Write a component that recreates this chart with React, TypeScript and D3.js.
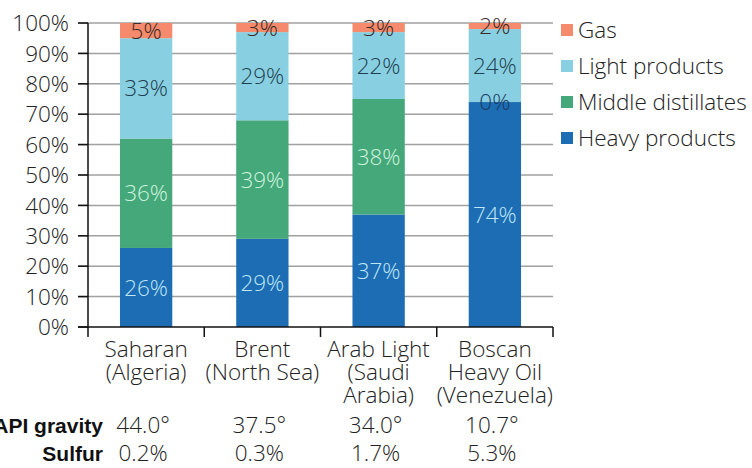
import React, { useEffect, useRef } from 'react'
import * as d3 from 'd3'

const crudes = ['Saharan', 'Brent', 'Arab Light', 'Boscan']
const crudeLabels = [
  ['Saharan', '(Algeria)'],
  ['Brent', '(North Sea)'],
  ['Arab Light', '(Saudi', 'Arabia)'],
  ['Boscan', 'Heavy Oil', '(Venezuela)'],
]
const heavy = [26, 29, 37, 74]
const middle = [36, 39, 38, 0]
const light = [33, 29, 22, 24]
const gas = [5, 3, 3, 2]
const apiGravity = ['44.0°', '37.5°', '34.0°', '10.7°']
const sulfur = ['0.2%', '0.3%', '1.7%', '5.3%']
const yTicks = [0, 10, 20, 30, 40, 50, 60, 70, 80, 90, 100]

const series = [
  { key: 'heavy', name: 'Heavy products', values: heavy, color: '#1c6db3', text: '#bfe6f7' },
  { key: 'middle', name: 'Middle distillates', values: middle, color: '#45a87a', text: '#cdf3dd' },
  { key: 'light', name: 'Light products', values: light, color: '#88d0e1', text: '#1f3f50' },
  { key: 'gas', name: 'Gas', values: gas, color: '#f58a6c', text: '#3a2a28' },
]

const FONT = '"Open Sans", Roboto, sans-serif'
const FS = '22.5px'

export default function App() {
  const svgRef = useRef<SVGSVGElement>(null)
  const width = 752
  const height = 468

  useEffect(() => {
    if (!svgRef.current) return
    const svg = d3.select(svgRef.current)
    svg.selectAll('*').remove()

    const left = 88
    const right = 553
    const top = 23
    const bottom = 327

    const x = d3.scaleBand<string>()
      .domain(crudes)
      .range([left, right])
      .paddingInner(0.55)
      .paddingOuter(0.275)

    const y = d3.scaleLinear().domain([0, 100]).range([bottom, top])

    const txt = (sel: any) => sel
      .style('font-family', FONT)
      .style('font-size', FS)
      .style('font-weight', 300)

    // grid lines
    svg.append('g')
      .selectAll('line')
      .data(yTicks.filter(t => t > 0))
      .join('line')
      .attr('x1', left - 10)
      .attr('x2', right)
      .attr('y1', d => y(d))
      .attr('y2', d => y(d))
      .attr('stroke', '#a0a0a0')
      .attr('stroke-width', 1.5)

    // y tick labels
    svg.append('g')
      .selectAll('text')
      .data(yTicks)
      .join('text')
      .attr('x', 69)
      .attr('y', d => y(d))
      .attr('dy', '0.36em')
      .attr('text-anchor', 'end')
      .call(txt)
      .attr('fill', '#222')
      .text(d => `${d}%`)

    // stacked bars
    const rows = crudes.map((c, i) => {
      const r: any = { crude: c }
      series.forEach(s => { r[s.key] = s.values[i] })
      return r
    })
    const stack = d3.stack<any>().keys(series.map(s => s.key))(rows)

    stack.forEach((layer, li) => {
      const s = series[li]
      svg.append('g')
        .selectAll('rect')
        .data(layer)
        .join('rect')
        .attr('x', d => x(d.data.crude)!)
        .attr('width', x.bandwidth())
        .attr('y', d => y(d[1]))
        .attr('height', d => y(d[0]) - y(d[1]))
        .attr('fill', s.color)
    })

    stack.forEach((layer, li) => {
      const s = series[li]
      svg.append('g')
        .selectAll('text')
        .data(layer)
        .join('text')
        .attr('x', d => x(d.data.crude)! + x.bandwidth() / 2)
        .attr('y', d => y((d[0] + d[1]) / 2))
        .attr('dy', '0.36em')
        .attr('text-anchor', 'middle')
        .call(txt)
        .attr('fill', d => (d[1] - d[0] === 0 ? '#1a3b66' : s.text))
        .text(d => `${d[1] - d[0]}%`)
    })

    // axes
    svg.append('line')
      .attr('x1', left).attr('x2', left)
      .attr('y1', top).attr('y2', bottom + 10)
      .attr('stroke', '#111').attr('stroke-width', 1.5)
    svg.append('line')
      .attr('x1', left - 10).attr('x2', right)
      .attr('y1', bottom).attr('y2', bottom)
      .attr('stroke', '#111').attr('stroke-width', 1.5)
    svg.append('g')
      .selectAll('line')
      .data(yTicks)
      .join('line')
      .attr('x1', left - 10).attr('x2', left)
      .attr('y1', d => y(d)).attr('y2', d => y(d))
      .attr('stroke', '#111').attr('stroke-width', 1.5)
    const step = x.step()
    const bounds = d3.range(crudes.length + 1).map(i => left + i * step)
    svg.append('g')
      .selectAll('line')
      .data(bounds.slice(1))
      .join('line')
      .attr('x1', d => d).attr('x2', d => d)
      .attr('y1', bottom).attr('y2', bottom + 10)
      .attr('stroke', '#111').attr('stroke-width', 1.5)

    // category labels
    crudeLabels.forEach((lines, i) => {
      const cx = x(crudes[i])! + x.bandwidth() / 2
      const t = svg.append('text')
        .attr('text-anchor', 'middle')
        .call(txt)
        .attr('fill', '#222')
      lines.forEach((ln, j) => {
        t.append('tspan')
          .attr('x', cx)
          .attr('y', 357 + j * 23)
          .text(ln)
      })
    })

    // property rows
    const props = [
      { label: 'API gravity', values: apiGravity, y: 433 },
      { label: 'Sulfur', values: sulfur, y: 461 },
    ]
    props.forEach(p => {
      svg.append('text')
        .attr('x', 103)
        .attr('y', p.y)
        .attr('text-anchor', 'end')
        .style('font-family', '"Liberation Sans Narrow", "Liberation Sans", sans-serif')
        .style('font-size', '21px')
        .style('font-weight', 700)
        .attr('fill', '#111')
        .text(p.label)
      svg.append('g')
        .selectAll('text')
        .data(p.values)
        .join('text')
        .attr('x', (d, i) => x(crudes[i])! + x.bandwidth() / 2 - 3)
        .attr('y', p.y)
        .attr('text-anchor', 'middle')
        .call(txt)
        .attr('fill', '#222')
        .text(d => d)
    })

    // legend
    const legendItems = [...series].reverse()
    const legend = svg.append('g').attr('transform', 'translate(561, 30)')
    legendItems.forEach((s, i) => {
      const row = legend.append('g').attr('transform', `translate(0, ${i * 36})`)
      row.append('rect')
        .attr('x', 0).attr('y', -6)
        .attr('width', 12).attr('height', 12)
        .attr('fill', s.color)
      row.append('text')
        .attr('x', 17)
        .attr('y', 0)
        .attr('dy', '0.36em')
        .call(txt)
        .attr('fill', '#222')
        .text(s.name)
    })
  }, [])

  return (
    <svg
      ref={svgRef}
      width={width}
      height={height}
      style={{ position: 'absolute', left: 0, top: 0, background: '#fff' }}
    />
  )
}
